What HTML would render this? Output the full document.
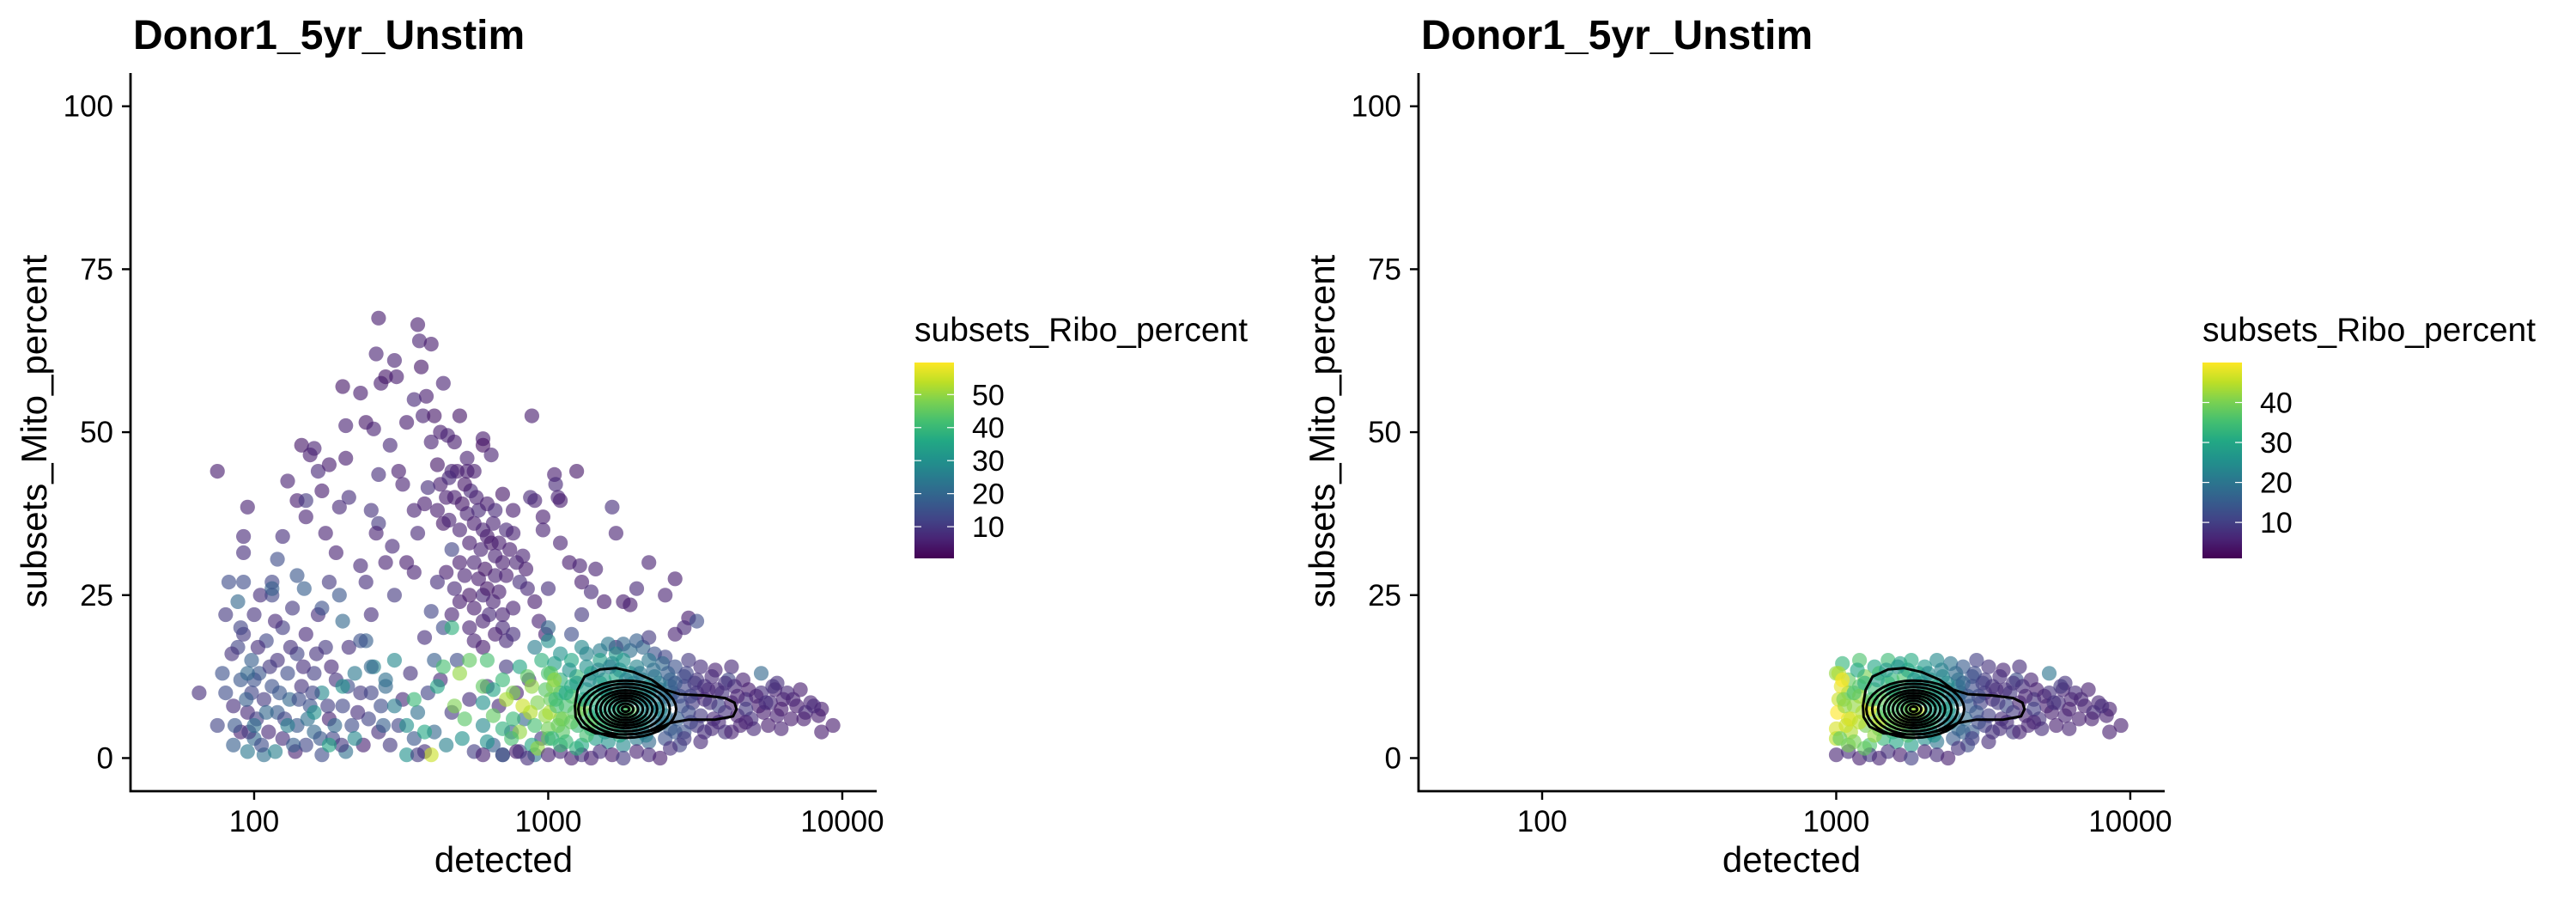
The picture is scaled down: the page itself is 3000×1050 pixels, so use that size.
<!DOCTYPE html>
<html><head><meta charset="utf-8"><style>
html,body{margin:0;padding:0;background:#fff;}
svg{display:block;font-family:"Liberation Sans",Arial,sans-serif;}
</style></head><body>
<svg id="fig" width="3000" height="1050" viewBox="0 0 3000 1050" xmlns="http://www.w3.org/2000/svg">
<defs>
<linearGradient id="vir" x1="0" y1="1" x2="0" y2="0">
<stop offset="0" stop-color="#440154"/><stop offset="0.1" stop-color="#482475"/><stop offset="0.2" stop-color="#414487"/><stop offset="0.3" stop-color="#355f8d"/><stop offset="0.4" stop-color="#2a788e"/><stop offset="0.5" stop-color="#21918c"/><stop offset="0.6" stop-color="#22a884"/><stop offset="0.7" stop-color="#44bf70"/><stop offset="0.8" stop-color="#7ad151"/><stop offset="0.9" stop-color="#bddf26"/><stop offset="1" stop-color="#fde725"/>
</linearGradient>
</defs>
</svg>
<script>
// ---- data: [detected, subsets_Mito_percent, subsets_Ribo_percent] ----
const highMitoCells = [
[75,44,5],[95,38.5,6],[92,34,7],[92,31.5,8],[130,42.5,6],[125,34,8],[140,39.5,5],[150,37,6],[145,48,4],[155,46.5,5],
[160,47.5,6],[165,44,7],[170,41,5],[175,34.5,6],[180,45,5],[200,57,4],[205,51,6],[205,46,5],[195,38.5,7],[190,31.5,6],
[230,56,5],[240,51.5,4],[255,50.5,6],[265,67.5,5],[260,62,6],[270,57.5,5],[280,58.5,4],[300,61,6],[305,58.5,5],[290,48,7],
[310,44,5],[320,42,6],[265,43.5,8],[265,36,10],[280,30,6],[295,32.5,7],[360,66.5,5],[365,64,6],[370,60,4],[400,63.5,5],
[440,57.5,6],[385,55.5,5],[350,55,7],[330,51.5,5],[375,52.5,6],[410,52.5,4],[430,50,5],[455,49.5,6],[480,48.5,5],[500,52.5,4],
[530,46,6],[600,49,5],[600,48,3],[640,46.5,6],[530,44,5],[545,41,7],[490,44,5],[470,44,6],[430,42,5],[420,45,4],
[400,48.5,6],[390,41.5,8],[380,39,5],[350,38,6],[360,34.5,7],[420,38,5],[440,36,4],[460,36.5,6],[480,40,5],[510,39,4],
[530,37.5,6],[560,36,5],[580,38,7],[600,35,6],[620,34,5],[640,33,4],[660,31,6],[700,30,5],[720,35,7],[760,34.5,6],
[760,38,5],[700,40.5,4],[650,36,6],[470,32,12],[500,30,5],[520,28,6],[480,26,7],[450,28.5,5],[420,27,8],[560,30,6],
[580,27.5,5],[600,25,7],[620,26,4],[650,24,6],[680,25.5,5],[700,22,6],[630,22,7],[560,23,5],[540,20,6],[440,20,14],
[400,22.5,12],[380,18.5,8],[410,15,18],[560,18,6],[600,17,5],[700,20,7],[760,23,6],[800,27,8],[880,52.5,5],[900,39.5,6],
[870,40,7],[960,37,5],[960,35,6],[1050,43.5,5],[1060,42,7],[1080,40,6],[1100,39.5,5],[1100,33,6],[1250,44,4],[1180,30,5],
[1280,29.5,6],[1300,27,5],[1400,25.5,7],[1450,29,6],[1550,24,5],[1650,38.5,8],[1700,34.5,6],[1800,24,5],[2000,26,7],[2200,30,6],
[2700,27.5,5],[2500,25,6],[3000,21.5,5],[2900,20,7],[2700,19,6],[3200,21,14],[1900,23.5,5],[1300,22,10],[1700,17,6],[900,24,5],
[850,26,7],[930,21,6],[980,19,5],[1000,26,8],[820,31,6],[720,28,5],[660,28,6],[460,43,7],[560,44,5],[150,39.5,10],
[210,40,8],[120,30.5,14],[115,25,12],[250,38,9],[230,29.5,7],[240,27,8],[260,34.5,6],[300,25,10],[330,30,5],[350,28.5,6],
[250,22,8],[180,27,10],
[540,33,5],[590,32,6],[610,29,4],[680,33,5],[500,35,6],[450,40,5],[520,42,4],[570,40,6],[620,39,5],[660,38,7],
[740,32,5],[780,30,6],[840,29,5],[540,25,4],[600,21,6],[660,19,5],[720,18,7],[500,24,5],[470,22,6],[760,19,8]];
const lowLeftCells = [
[65,10,8],[75,5,12],[78,13,15],[80,22,10],[82,27,14],[85,2,18],[85,8,8],[88,17,12],[88,24,20],[90,4,6],
[90,12,16],[92,19,10],[92,27,14],[95,1,24],[95,7,7],[98,10,12],[98,15,18],[100,22,9],[100,3,20],[102,6,11],
[104,13,16],[105,25,8],[108,0.5,22],[108,9,10],[110,18,13],[112,4,7],[115,11,15],[115,27,12],[118,1,26],[120,15,9],
[120,7,17],[125,20,11],[125,3,8],[130,13,14],[132,9,20],[135,23,10],[138,1,6],[140,5,16],[140,16,12],[145,11,9],
[148,26,18],[150,2,13],[150,19,7],[155,8,15],[160,13,11],[160,4,20],[165,22,8],[170,0.5,14],[170,10,28],[175,17,10],
[180,6,6],[185,3,12],[190,12,9],[195,25,16],[200,8,13],[205,1,22],[210,17,8],[215,5,14],[220,13,24],[230,10,10],
[235,2,6],[240,18,18],[245,6,12],[255,14,26],[265,4,8],[270,8,14],[280,11,20],[290,2,10],[300,15,28],[310,5,12],
[320,9,7],[330,0.5,30],[340,13,9],[350,3,16],[360,7,22],[380,1,8],[390,10,12],[410,4,20],[430,12,7],[450,2,26],
[470,7,10],[490,15,14],[510,3,30],[540,9,8],[560,1,11],[600,5,28],[620,11,9],[650,2,18],[680,8,7],[700,0.5,26],
[720,14,10],[750,4,16],[780,10,6],[800,1,12],[830,6,20],[860,12,8],[900,0.5,24],[950,3,10],
[80,10,14],[84,16,9],[86,5,16],[90,20,12],[94,9,18],[96,4,10],[100,12,15],[103,17,8],[106,2,14],[110,7,20],
[113,14,10],[118,21,7],[122,10,16],[127,6,12],[133,17,9],[136,2,18],[142,9,14],[147,14,8],[152,6,22],[158,10,12],
[163,16,9],[168,3,16],[178,8,11],[183,14,7],[188,5,20],[198,2,10],[208,11,14],[225,7,8],[250,10,12],[275,5,18]];
const midGreenCells = [
[470,20,38],[440,14,42],[500,13,50],[540,15,45],[420,11,35],[480,8,48],[350,9,40],[520,6,44],[380,4,36],[600,11,45],
[620,15,42],[400,0.5,55],[360,0.5,10],[330,5,30],[300,8,25],[280,12,22],[250,14,20],[230,18,15],[220,3,28],[200,11,30],
[180,2,35],[160,7,30],[130,5,25],[100,5,22],[95,13,20],[115,26,18],[140,28,16],[200,21,20],[170,23,15]];
const mainClusterCells = [
[1100,16,30],[1300,17,28],[1500,16.5,25],[1700,16,32],[1900,16.5,22],[2100,17,20],[2300,16,15],[2500,15.5,12],[900,17,25],[1000,18,30],
[800,14,35],[950,15,38],[1050,14.5,33],[1200,15,36],[1350,14,30],[1500,15,34],[1650,14.5,29],[1800,15,31],[2000,14,27],[2200,15,24],
[2450,14.5,20],[2700,14,15],[3000,15,10],[3300,14,8],[3700,13.5,6],[4200,14,7],
[700,12,40],[850,12.5,45],[1000,13,42],[1100,12,38],[1250,12.5,40],[1400,13,35],[1550,12,33],[1700,12.5,36],[1900,13,30],[2100,12,28],
[2300,12.5,25],[2600,12,20],[2900,12.5,14],[3200,12,9],[3600,12.5,7],[4100,12,12],[4600,12,6],[5300,13,20],[6000,11.5,8],
[650,10.5,35],[760,10,48],[880,11,50],[980,10.5,44],[1100,10,40],[1200,11,37],[1350,10.5,34],[1500,10,36],[1650,10.5,32],[1800,11,30],
[2000,10.5,28],[2200,10,30],[2400,10.5,25],[2650,10,18],[2900,11,12],[3200,10,8],[3500,10.5,6],[3900,10,9],[4300,11,7],[4800,10.5,5],
[5300,10,8],[5900,10.5,6],[6500,10,7],[7200,10.5,5],
[600,8.5,30],[720,9,52],[820,8,55],[920,8.5,48],[1020,9,46],[1150,8,42],[1280,8.5,45],[1400,9,38],[1550,8,35],[1700,8.5,33],
[1900,9,31],[2100,8,30],[2350,8.5,26],[2600,9,20],[2850,8,15],[3100,8.5,10],[3400,9,7],[3800,8,12],[4200,8.5,6],[4700,9,8],
[5200,8,5],[5700,8.5,7],[6300,9,6],[7000,8,5],[7800,8.5,6],[8500,7.5,5],
[650,6.5,45],[760,6,40],[870,7,53],[980,6.5,50],[1100,6,47],[1230,7,44],[1370,6.5,40],[1520,6,38],[1680,7,36],[1850,6.5,34],
[2050,6,30],[2250,7,28],[2500,6.5,24],[2750,6,18],[3000,7,14],[3300,6.5,10],[3650,6,7],[4000,7,9],[4400,6.5,6],[4900,6,8],
[5400,7,5],[6000,6.5,6],[6700,6,5],[7500,7,7],[8300,6.5,5],[9300,5,5],
[700,4.5,38],[800,4,50],[900,5,42],[1000,4.5,47],[1120,4,44],[1260,5,40],[1400,4.5,37],[1560,4,34],[1730,5,32],[1900,4.5,30],
[2100,4,26],[2350,5,22],[2600,4.5,18],[2900,4,15],[3200,5,10],[3600,4.5,7],[4000,4,9],[4500,5,6],[5000,4.5,7],[5600,5,5],
[6200,4.5,6],[8500,4,5],
[620,2.5,30],[750,3,42],[880,2,36],[1000,3,45],[1150,2.5,40],[1300,2,36],[1450,3,33],[1600,2.5,30],[1800,2,28],[2000,3,25],
[2200,2.5,20],[2500,3,15],[2800,2,12],
[600,0.5,6],[700,0.5,10],[780,1,5],[850,0,8],[920,1.5,50],[1000,0.5,6],[1100,1,7],[1200,0,5],[1300,0.5,9],[1400,0,6],
[1500,1,8],[1650,0.5,5],[1800,0,10],[2000,1,6],[2200,0.5,7],[2400,0,5],
[1600,9.5,38],[1800,7.5,40],[2000,9.5,35],[1700,5.5,42],[1900,7,45],[1500,11.5,33],[2200,11,30],[1300,7.5,48],[1200,9.5,43],[1400,5.5,46],
[2400,7.5,28],[2600,11,22],[1750,13.5,30],[2100,5.5,33],
[1020,13,44],[1040,11,48],[1060,9,40],[1010,7,52],[1080,5,46],[1030,3,38],[1050,12,50],[1070,8,42],[1120,6,47],[1150,10,36],
[1180,13.5,30],[1250,11.5,32],[1320,9,34],[1380,12,28],[1450,7,36],[1480,13.5,27],[1560,10.5,30],[1620,14,26],[1760,9.5,32],[1840,12,26],
[1950,11.5,27],[2050,13,24],[2150,9,28],[2280,13.5,22],[2380,11.5,24],[2500,9.5,22],[2550,13,18],[2700,11.5,16],[2800,9.5,14],[2950,13,12],
[3050,9.5,12],[3150,11.5,10],[3400,11,8],[3550,8.5,9],[3750,10.5,7],[4000,11.5,8],[4400,9.5,6],[4700,7.5,10],[5100,9.5,6],[5500,8.5,8],
[5800,11,9],[6200,7.5,5],[6800,9,6],[7400,6,5],[8000,8,7],[1200,5.5,45],[1350,3.5,42],[1550,5,40],[1750,3.5,36],[1950,5.5,32],
[2150,3.5,26],[2450,5.5,24],[2700,4,16],[3050,5.5,12],[3400,4,8],[3800,5.5,7],[4200,4,6],[4700,5.5,6],[1100,2,40],[1250,1.5,38],
[2600,1.5,8],[2900,3,10],[3300,2.5,7],[1350,16,27],[1600,17.5,24],[1800,17.5,20],[2000,18,18],[2200,18.5,10],[1200,19,14],[1000,20,20]];
// contour data (density rings)
const outerRingDet  = [1233,1260,1330,1500,1700,1950,2250,2500,2800,3400,4000,4300,4370,4250,3700,3000,2600,2300,2000,1700,1450,1300,1240,1233];
const outerRingMito = [8,10.5,12.5,13.6,13.8,13.2,12,10.5,9.8,9.6,9.2,8.5,7.5,6.4,5.9,5.9,5.4,4.3,3.7,3.6,3.8,4.8,6.3,8];
const ringCenter = [1830, 7.5];
const ringHalfWidthLog = [0.16,0.14,0.12,0.10,0.085,0.07,0.055,0.04,0.025,0.012];
const ringHalfHeight = [4.4,3.9,3.4,2.9,2.5,2.1,1.7,1.3,0.85,0.4];
// scales / ticks
const xTicks = [100,1000,10000];
const xTickLabels = ["100","1000","10000"];
const yTicks = [0,25,50,75,100];
const yTickLabels = ["0","25","50","75","100"];
const colorLimits1 = [0.4,59.7];
const colorLimits2 = [1,50];
const legendTicks1 = [10,20,30,40,50];
const legendTicks2 = [10,20,30,40];

const cells = [].concat(lowLeftCells, highMitoCells, midGreenCells, mainClusterCells);
const detected = cells.map(c=>c[0]);
const mito = cells.map(c=>c[1]);
const ribo = cells.map(c=>c[2]);

const svg = document.getElementById('fig');
const NS = 'http://www.w3.org/2000/svg';
const VIR = ["#440154","#482475","#414487","#355f8d","#2a788e","#21918c","#22a884","#44bf70","#7ad151","#bddf26","#fde725"];
function hex(c){return [parseInt(c.substr(1,2),16),parseInt(c.substr(3,2),16),parseInt(c.substr(5,2),16)];}
function viridis(t){
  if(!isFinite(t)) t=0;
  t=Math.max(0,Math.min(1,t));const p=t*10;const i=Math.min(9,Math.floor(p));const f=p-i;
  const a=hex(VIR[i]),b=hex(VIR[i+1]);
  return 'rgb('+a.map((v,k)=>Math.round(v+(b[k]-v)*f)).join(',')+')';
}
function mk(tag,attrs,parent){const e=document.createElementNS(NS,tag);for(const k in attrs)e.setAttribute(k,attrs[k]);(parent||svg).appendChild(e);return e;}

function drawPanel(off, idx, lims, legTicks, tag){
  const L=152+off, R=1021+off, T=85, B=921;
  const xlo=1.5796, xhi=4.117, ylo=-5.08, yhi=105.1;
  const sx=v=>L+(Math.log10(v)-xlo)/(xhi-xlo)*(R-L);
  const sxl=lv=>L+(lv-xlo)/(xhi-xlo)*(R-L);
  const sy=v=>B-(v-ylo)/(yhi-ylo)*(B-T);
  const g=mk('g',{});
  
  
  const title=mk('text',{x:L+3,y:57,'font-size':48,'font-weight':'bold',fill:'#000'},g);
  title.textContent='Donor1_5yr_Unstim';
  
  
  const pg=mk('g',{'fill-opacity':0.62},g);
  
  
  idx.forEach(i=>{
    const c=mk('circle',{cx:sx(detected[i]).toFixed(1),cy:sy(mito[i]).toFixed(1),r:8.6,fill:viridis((ribo[i]-lims[0])/(lims[1]-lims[0]))},pg);
    
    
  });
  const cg=mk('g',{fill:'none',stroke:'#000','stroke-width':3,'stroke-linejoin':'round'},g);
  
  
  let d='';
  outerRingDet.forEach((v,k)=>{d+=(k?'L':'M')+sx(v).toFixed(1)+','+sy(outerRingMito[k]).toFixed(1);});
  const op=mk('path',{d:d+'Z'},cg);
  
  
  const clx=Math.log10(ringCenter[0]);
  ringHalfWidthLog.forEach((rw,k)=>{
    let dd='';
    for(let a=0;a<=36;a++){const th=a/36*2*Math.PI;
      const lx=clx+rw*Math.cos(th)*(Math.cos(th)>0?1.08:1);
      const my=ringCenter[1]+ringHalfHeight[k]*Math.sin(th);
      dd+=(a?'L':'M')+sxl(lx).toFixed(1)+','+sy(my).toFixed(1);}
    const rp=mk('path',{d:dd+'Z'},cg);
    
    
  });
  const ax=mk('path',{d:`M${L},${T}L${L},${B}L${R},${B}`,fill:'none',stroke:'#000','stroke-width':2.8},g);
  
  
  yTicks.forEach((v,k)=>{
    const y=sy(v);
    mk('line',{x1:L-10,x2:L,y1:y,y2:y,stroke:'#000','stroke-width':2.4},g);
    const t=mk('text',{x:L-20,y:y+12,'font-size':35,'text-anchor':'end',fill:'#000'},g);
    t.textContent=yTickLabels[k];
    
    
  });
  xTicks.forEach((v,k)=>{
    const x=sx(v);
    mk('line',{x1:x,x2:x,y1:B,y2:B+10,stroke:'#000','stroke-width':2.4},g);
    const t=mk('text',{x:x,y:968,'font-size':35,'text-anchor':'middle',fill:'#000'},g);
    t.textContent=xTickLabels[k];
    
    
  });
  const xt=mk('text',{x:(L+R)/2,y:1015,'font-size':42,'text-anchor':'middle',fill:'#000'},g);
  xt.textContent='detected';
  
  
  const yt=mk('text',{x:0,y:0,'font-size':42,'text-anchor':'middle',fill:'#000',transform:`translate(${54+off},502) rotate(-90)`},g);
  yt.textContent='subsets_Mito_percent';
  
  
  const lx=1065+off, ltop=422, lbot=650, lw=46;
  const lg=mk('g',{},g);
  
  
  const lt=mk('text',{x:lx,y:397,'font-size':39,fill:'#000'},lg);
  lt.textContent='subsets_Ribo_percent';
  
  
  const bar=mk('rect',{x:lx,y:ltop,width:lw,height:lbot-ltop,fill:'url(#vir)'},lg);
  
  
  const ly=v=>lbot-(v-lims[0])/(lims[1]-lims[0])*(lbot-ltop);
  legTicks.forEach(v=>{
    const y=ly(v);
    mk('line',{x1:lx,x2:lx+8,y1:y,y2:y,stroke:'#fff','stroke-width':1.2},lg);
    mk('line',{x1:lx+lw-8,x2:lx+lw,y1:y,y2:y,stroke:'#fff','stroke-width':1.2},lg);
    const t=mk('text',{x:lx+67,y:y+12,'font-size':34,fill:'#000'},lg);
    t.textContent=String(v);
    
    
  });
}
const all=detected.map((_,i)=>i);
const filtered=all.filter(i=>detected[i]>=1000&&mito[i]<=15);
drawPanel(0,all,colorLimits1,legendTicks1,'unfiltered');
drawPanel(1500,filtered,colorLimits2,legendTicks2,'filtered');
</script>
</body></html>
